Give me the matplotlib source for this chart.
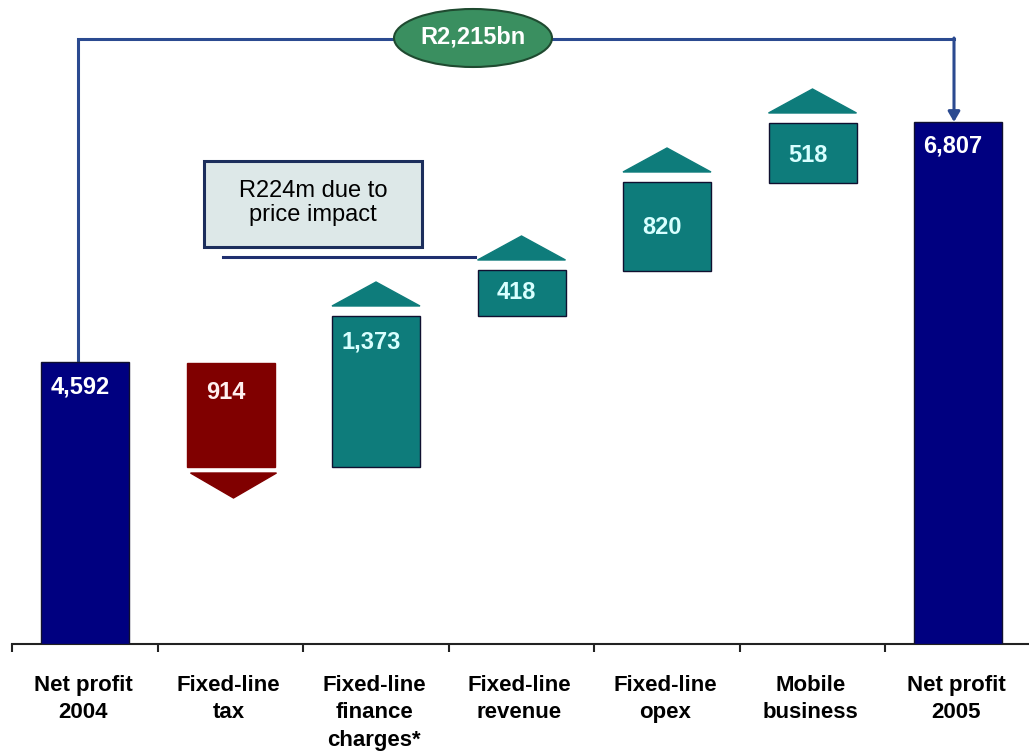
import matplotlib
matplotlib.use("Agg")
import matplotlib.pyplot as plt
import numpy as np
from matplotlib.patches import Polygon, Ellipse, Rectangle

# ---- data (heights in chart units above the axis) ----
categories = ['Net profit\n2004', 'Fixed-line\ntax', 'Fixed-line\nfinance\ncharges*',
              'Fixed-line\nrevenue', 'Fixed-line\nopex', 'Mobile\nbusiness', 'Net profit\n2005']
value_labels = ['4,592', '914', '1,373', '418', '820', '518', '6,807']
bar_base = [0, 177, 177, 328, 373, 461, 0]
bar_top = [282, 281, 328, 374, 462, 521, 522]
kind = ['total', 'down', 'up', 'up', 'up', 'up', 'total']
total_change = 'R2,215bn'
note_text = 'R224m due to\nprice impact'

# ---- styles ----
navy = '#000080'
teal = '#0e7c7b'
red = '#800000'
line_blue = '#2b4a90'
fill = {'total': navy, 'down': red, 'up': teal}
txt_col = {'total': 'white', 'down': '#fff0f0', 'up': '#d8ffff'}
label_drop = [25, 29, 26, 22, 45, 32, 24]

plt.rcParams['font.family'] = ['Liberation Sans', 'DejaVu Sans']

fig = plt.figure(figsize=(10.29, 7.55), dpi=100)
step = 145.5
ax = fig.add_axes([12.25 / 1029, 111 / 755, 7 * step / 1029, 644 / 755])
ax.set_xlim(-0.5, 6.5)
ax.set_ylim(0, 644)
# 1 x unit = step px, 1 y unit = 1 px
px = 1.0 / step

x = np.arange(len(categories))
w = 88 * px
heights = np.array(bar_top) - np.array(bar_base)
colors = [fill[k] for k in kind]
edges = ['#101030' if k != 'down' else red for k in kind]
ax.bar(x, heights, bottom=bar_base, width=w, color=colors,
       edgecolor=edges, linewidth=1.0, zorder=3)

# arrows above / below the change bars
for i, k in enumerate(kind):
    if k == 'up':
        b = bar_top[i] + 10
        tri = [(x[i] - w / 2, b), (x[i] + w / 2, b), (x[i], b + 24)]
        ax.add_patch(Polygon(tri, closed=True, color=teal, zorder=3))
    elif k == 'down':
        b = bar_base[i] - 6
        tri = [(x[i] - w / 2 + 4 * px, b), (x[i] + w / 2 + 2 * px, b), (x[i] + 3 * px, b - 25)]
        ax.add_patch(Polygon(tri, closed=True, color=red, zorder=3))

# value labels
for i, lab in enumerate(value_labels):
    ax.text(x[i] - 5 * px, bar_top[i] - label_drop[i], lab, color=txt_col[kind[i]],
            fontsize=17, fontweight='bold', ha='center', va='center', zorder=5)

# connector from 2004 to 2005
y_link = 605
xl = x[0] - 7 * px
xr = x[6] - 4 * px
ax.plot([xl, xl, xr], [bar_top[0], y_link, y_link], color=line_blue, lw=2.2,
        solid_joinstyle='miter', zorder=2)
ax.annotate('', xy=(xr, bar_top[6]), xytext=(xr, y_link + 1),
            arrowprops=dict(arrowstyle='-|>,head_width=0.35,head_length=0.6',
                            color=line_blue, lw=2.2, shrinkA=0, shrinkB=0), zorder=2)

ell = Ellipse((x[2] + 97 * px, 606), 158 * px, 58, facecolor='#3a8f60',
              edgecolor='#1f4a30', linewidth=1.5, zorder=4)
ax.add_patch(ell)
ax.text(x[2] + 97 * px, 607, total_change, color='white', fontsize=17,
        fontweight='bold', ha='center', va='center', zorder=5)

# note box and bracket line
bx0 = x[0] + 119 * px
bx1 = x[0] + 337 * px
ax.add_patch(Rectangle((bx0, 397), bx1 - bx0, 86, facecolor='#dde8e8',
                       edgecolor='#1c2e5c', linewidth=2.2, zorder=4))
ax.text((bx0 + bx1) / 2, 441, note_text, fontsize=17, ha='center', va='center',
        linespacing=1.12, zorder=5)
ax.plot([x[0] + 138 * px, x[0] + 390 * px], [387, 387], color='#1f2f6f', lw=2.2, zorder=2)

# axis
for s in ['top', 'right', 'left']:
    ax.spines[s].set_visible(False)
ax.spines['bottom'].set_linewidth(1.5)
ax.spines['bottom'].set_color('#222222')
ax.set_yticks([])
ax.set_xticks(np.arange(-0.5, 7, 1))
ax.set_xticklabels([])
ax.tick_params(axis='x', direction='out', length=6, width=1.5, color='#222222')

for i, c in enumerate(categories):
    ax.text(x[i] - 2 * px, -31, c, fontsize=16, fontweight='bold', ha='center', va='top',
            linespacing=1.4, clip_on=False)

fig.savefig('out.png', dpi=100)
